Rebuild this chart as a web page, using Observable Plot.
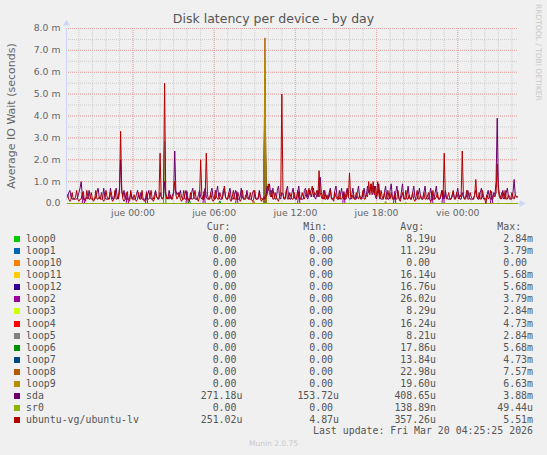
<!DOCTYPE html>
<html><head><meta charset="utf-8">
<script src="https://cdn.jsdelivr.net/npm/d3@7"></script>
<script src="https://cdn.jsdelivr.net/npm/@observablehq/plot@0.6"></script>
<style>
html,body{margin:0;padding:0;background:#F0F0F0;}
#root{position:relative;width:547px;height:455px;background:#F0F0F0;overflow:hidden;font-family:"DejaVu Sans",sans-serif;}
#title{position:absolute;left:0;top:11px;width:547px;text-align:center;font-size:12.5px;line-height:16px;color:#555;}
#chart{position:absolute;left:0;top:0;}
#wm{position:absolute;left:534px;top:4px;writing-mode:vertical-rl;font-size:7.5px;color:#c8c8c8;white-space:nowrap;line-height:9px;}
.row{position:absolute;left:0;width:547px;height:12px;line-height:12px;font-family:"DejaVu Sans Mono",monospace;font-size:9.9px;color:#555;white-space:pre;}
.row span{position:absolute;top:0;}
.sw{width:6px;height:6px;top:3px !important;left:14px;}
#munin{position:absolute;left:0;width:547px;text-align:center;top:439px;font-size:7.5px;line-height:10px;color:#c8c8c8;}
</style></head>
<body>
<div id="root">
  <div id="title">Disk latency per device - by day</div>
  <div id="chart"></div>
  <div id="wm">RRDTOOL / TOBI OETIKER</div>
  <div id="legend"></div>
  <div id="munin">Munin 2.0.75</div>
</div>
<script>
// ---- series metadata (legend order = draw order) ----
const seriesNames = ["loop0","loop1","loop10","loop11","loop12","loop2","loop3","loop4","loop5","loop6","loop7","loop8","loop9","sda","sr0","ubuntu-vg/ubuntu-lv"];
const seriesColors = ["#00CC00","#0066B3","#FF8000","#FFCC00","#330099","#990099","#CCFF00","#FF0000","#808080","#008F00","#00487D","#B35A00","#B38F00","#6B006B","#8FB300","#B30000"];
const curText = ["0.00","0.00","0.00","0.00","0.00","0.00","0.00","0.00","0.00","0.00","0.00","0.00","0.00","271.18u","0.00","251.02u"];
const minText = ["0.00","0.00","0.00","0.00","0.00","0.00","0.00","0.00","0.00","0.00","0.00","0.00","0.00","153.72u","0.00","4.87u"];
const avgText = ["8.19u","11.29u","0.00","16.14u","16.76u","26.02u","8.29u","16.24u","8.21u","17.86u","13.84u","22.98u","19.60u","408.65u","138.89n","357.26u"];
const maxText = ["2.84m","3.79m","0.00","5.68m","5.68m","3.79m","2.84m","4.73m","2.84m","5.68m","4.73m","7.57m","6.63m","3.88m","49.44u","5.51m"];
const lastUpdate = "Last update: Fri Mar 20 04:25:25 2026";

// ---- axis ticks ----
const xTickTimes = ["2026-03-19T00:00:00Z","2026-03-19T06:00:00Z","2026-03-19T12:00:00Z","2026-03-19T18:00:00Z","2026-03-20T00:00:00Z"];
const xTickLabels = ["jue 00:00","jue 06:00","jue 12:00","jue 18:00","vie 00:00"];
const yTicks = [0,1,2,3,4,5,6,7,8];
const yLabel = "Average IO Wait (seconds)";

// ---- 5-minute samples, in tenths of a millisecond ----
const sdaTenthMs = [
 3,5,6,3,2,2,2,2,2,3,5,7,10,4,2,2,2,3,2,6,
 3,2,2,2,2,3,5,7,3,2,2,2,7,3,2,2,2,3,7,4,
 2,2,4,7,3,2,5,20,6,3,6,2,2,2,2,2,5,3,2,2,
 2,4,6,3,2,5,2,2,2,2,2,4,6,3,2,2,2,4,6,3,
 2,2,5,3,2,3,10,4,3,2,6,3,2,4,5,24,6,4,5,3,
 6,3,2,2,4,6,2,2,2,2,5,7,3,2,2,2,4,6,3,2,
 2,5,7,3,2,2,2,5,7,3,2,2,5,8,3,2,2,2,6,7,
 3,2,2,5,7,3,2,2,4,6,3,2,2,3,7,3,2,2,2,6,
 3,2,2,2,5,6,3,2,2,2,6,3,2,2,2,3,4,8,6,9,
 5,3,7,4,2,2,6,8,3,2,5,4,2,2,6,8,3,2,2,5,
 7,3,2,2,5,8,3,2,2,2,6,7,3,2,4,6,3,5,7,3,
 2,4,6,3,12,5,3,2,6,3,2,2,5,7,3,2,2,6,8,3,
 2,2,4,7,3,2,2,5,7,3,2,2,4,7,3,2,2,5,8,3,
 2,2,5,7,3,4,8,5,6,9,4,5,8,3,2,6,9,3,2,2,
 2,5,8,3,2,2,6,9,3,2,2,5,8,4,2,2,5,9,3,2,
 2,4,8,3,2,2,5,8,3,2,2,4,7,3,2,2,5,8,3,2,
 2,4,7,3,2,2,5,8,3,2,2,3,6,3,2,6,3,2,2,2,
 2,3,5,3,2,4,7,3,2,2,5,3,2,2,4,6,3,2,2,2,
 2,4,6,3,2,2,5,7,3,2,2,2,4,6,3,2,2,3,5,4,
 10,39,8,4,3,2,6,3,2,5,7,3,2,2,2,5,11,4,3,3
];
const lvTenthMs = [
 4,2,1,2,5,2,2,3,6,2,1,2,2,5,2,2,1,6,3,2,
 2,5,2,1,2,6,2,2,3,2,5,2,1,2,6,3,2,2,5,2,
 1,2,6,2,2,3,7,33,6,2,1,2,5,2,2,1,6,2,2,4,
 2,1,2,5,2,2,6,2,1,2,5,2,2,3,6,2,1,2,5,3,
 2,3,23,3,2,3,55,5,2,3,2,4,2,2,5,10,4,2,3,5,
 2,1,2,6,2,2,3,2,1,5,2,2,3,6,2,2,1,3,20,4,
 2,2,3,23,4,2,2,5,2,1,2,6,3,2,2,5,3,2,4,8,
 3,2,2,5,2,1,3,6,2,2,2,5,3,1,2,6,2,2,4,3,
 2,2,5,2,1,2,6,2,2,3,5,2,1,2,3,2,3,4,9,5,
 3,6,2,2,5,3,2,1,3,4,50,5,2,3,6,2,2,5,3,2,
 2,5,2,2,6,3,2,2,5,3,2,4,6,3,7,4,6,8,3,5,
 4,6,3,15,5,3,2,6,2,2,4,2,3,6,2,2,1,5,3,2,
 2,6,2,2,3,5,2,2,6,3,14,3,2,4,2,2,5,3,2,4,
 2,3,6,2,2,4,3,10,4,9,5,10,4,8,3,10,4,2,6,3,
 2,5,2,2,6,3,2,5,2,2,4,2,2,6,2,1,3,5,2,2,
 6,2,2,4,2,2,5,2,1,3,6,2,2,4,2,2,5,2,2,3,
 5,2,1,2,6,2,2,3,5,2,2,4,6,3,23,4,2,3,5,2,
 2,4,6,2,2,5,3,2,4,3,24,4,2,3,6,2,2,5,3,2,
 2,4,11,3,2,5,2,2,6,3,2,0,4,2,3,6,2,2,4,3,
 5,18,6,3,2,5,3,2,6,2,2,4,3,2,5,3,2,4,3,3
];
// loop devices and sr0 are idle except for these samples (slot index, value in ms)
const eventSeries = ["loop0","loop3","loop5","loop1","loop2","loop4","loop7","loop11","loop12","loop6","loop8","loop9",
  "loop6","loop6","loop8","loop9","sr0",
  "loop2","loop2","loop2","loop2","loop2","loop2","loop2","loop2","loop2","loop2","loop2","loop2"];
const eventSlot = [86,86,86,175,175,175,175,175,175,175,175,175,
  108,135,165,282,300,
  14,53,70,106,121,150,205,245,290,323,333,376];
const eventMs = [2.84,2.84,2.84,3.79,3.79,4.73,4.73,5.68,5.68,5.68,7.57,6.63,
  0.15,0.12,0.12,0.10,0.049,
  0.55,0.55,0.55,0.55,0.55,0.55,0.55,0.55,0.55,0.55,0.55,0.55];

// ---- time base ----
const endTime = new Date("2026-03-20T04:25:00Z");
const stepMs = 5 * 60 * 1000;
const nSlots = sdaTenthMs.length;
const startTime = new Date(+endTime - nSlots * stepMs);
const timeAt = i => new Date(+endTime - (nSlots - 1 - i) * stepMs);

const valuesByName = new Map();
for (const name of seriesNames) valuesByName.set(name, new Array(nSlots).fill(0));
valuesByName.set("sda", sdaTenthMs.map(v => v / 10));
valuesByName.set("ubuntu-vg/ubuntu-lv", lvTenthMs.map(v => v / 10));
eventSeries.forEach((name, j) => { valuesByName.get(name)[eventSlot[j]] = eventMs[j]; });

const xTickDates = xTickTimes.map(s => new Date(s));
const labelByTime = new Map(xTickDates.map((d, i) => [+d, xTickLabels[i]]));
const hourLines = d3.utcHour.range(d3.utcHour.ceil(startTime), endTime);
const halfLines = d3.range(1, 17).map(k => k / 2);
const majorY = yTicks.filter(v => v > 0);

const lineMarks = seriesNames.map((name, k) =>
  Plot.line(valuesByName.get(name).map((v, i) => ({t: timeAt(i), v})),
    {x: "t", y: "v", stroke: seriesColors[k], strokeWidth: 1}));

const axisColor = "#CFD6F8";
const minorGrid = "#CDCDCD";
const majorGrid = "#EDA3A3";
const chart = Plot.plot({
  width: 547, height: 222,
  marginLeft: 66, marginRight: 30, marginTop: 28, marginBottom: 19,
  style: {background: "transparent", color: "#666", fontFamily: "DejaVu Sans", fontSize: "9.3px", overflow: "visible"},
  x: {type: "utc", domain: [startTime, endTime]},
  y: {domain: [0, 8]},
  marks: [
    Plot.ruleX(hourLines, {stroke: minorGrid, strokeDasharray: "1,1"}),
    Plot.ruleY(halfLines, {stroke: minorGrid, strokeDasharray: "1,1"}),
    Plot.ruleX(xTickDates, {stroke: majorGrid, strokeDasharray: "1,1"}),
    Plot.ruleY(majorY, {stroke: majorGrid, strokeDasharray: "1,1"}),
    Plot.ruleX([{t: startTime, a: 0, b: 8}], {x: "t", y1: "a", y2: "b", stroke: axisColor, insetTop: -3}),
    Plot.ruleY([{v: 0, a: startTime, b: endTime}], {y: "v", x1: "a", x2: "b", stroke: axisColor, insetRight: -3}),
    Plot.dot([{t: startTime, v: 8}], {x: "t", y: "v", symbol: "triangle", r: 2.6, fill: axisColor, stroke: null, dy: -5}),
    Plot.dot([{t: endTime, v: 0}], {x: "t", y: "v", symbol: "triangle", r: 2.6, fill: axisColor, stroke: null, rotate: 90, dx: 4}),
    Plot.axisX(xTickDates, {tickSize: 0, tickPadding: 6, tickFormat: d => labelByTime.get(+d), label: null, fontSize: 9.3}),
    Plot.axisY(yTicks, {tickSize: 0, tickPadding: 6, tickFormat: v => v === 0 ? "0.0" : `${v.toFixed(1)} m`, label: null, fontSize: 9.3}),
    Plot.text([yLabel], {frameAnchor: "left", textAnchor: "middle", lineAnchor: "middle", rotate: -90, dx: -55, fontSize: 11, fill: "#666"}),
    ...lineMarks
  ]
});
document.getElementById("chart").appendChild(chart);

// ---- legend ----
const legend = document.getElementById("legend");
const colEdges = [242.4, 339, 436, 533];
const withUnit = s => /[0-9]$/.test(s) ? s + " " : s;
function addRow(top) {
  const row = document.createElement("div");
  row.className = "row";
  row.style.top = top + "px";
  legend.appendChild(row);
  return row;
}
function addSpan(row, text, edge) {
  const s = document.createElement("span");
  s.textContent = text;
  s.style.right = (547 - edge) + "px";
  row.appendChild(s);
}
const header = addRow(227.3 - 6);
["Cur:  ","Min:  ","Avg:  ","Max:  "].forEach((h, c) => addSpan(header, h, colEdges[c]));
seriesNames.forEach((name, k) => {
  const row = addRow(239.3 + 12.03 * k - 6);
  const sw = document.createElement("span");
  sw.className = "sw";
  sw.style.background = seriesColors[k];
  row.appendChild(sw);
  const nm = document.createElement("span");
  nm.textContent = name;
  nm.style.left = "26px";
  row.appendChild(nm);
  [curText[k], minText[k], avgText[k], maxText[k]].forEach((t, c) => addSpan(row, withUnit(t), colEdges[c]));
});
const lu = addRow(431.3 - 6);
addSpan(lu, lastUpdate, 533);
</script>
</body></html>
